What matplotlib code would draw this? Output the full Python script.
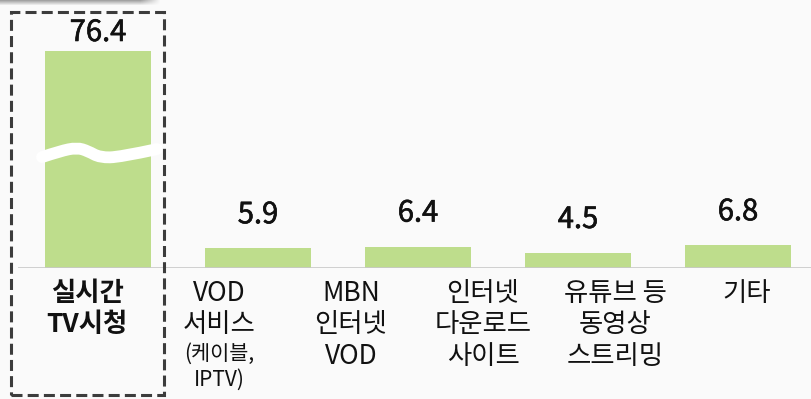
import numpy as np
import matplotlib
matplotlib.use('Agg')
import matplotlib.pyplot as plt
import matplotlib.patheffects as pe
from matplotlib.patches import Rectangle
from matplotlib.path import Path
from matplotlib.patches import PathPatch

plt.rcParams['font.family'] = ['Noto Sans CJK KR', 'DejaVu Sans']

# 이용 경로별 응답 비율 (%)
bar_values = [76.4, 5.9, 6.4, 4.5, 6.8]
bar_labels = ['76.4', '5.9', '6.4', '4.5', '6.8']
categories = ['실시간\nTV시청', 'VOD\n서비스', 'MBN\n인터넷\nVOD',
              '인터넷\n다운로드\n사이트', '유튜브 등\n동영상\n스트리밍', '기타']
sub_note = '(케이블,\nIPTV)'

W, H = 811, 399
BG = '#fafafa'
BAR = '#bedd8c'
INK = '#111111'

# 축 생략: BREAK 위쪽은 압축해서 그린다
BREAK = 34.0
K = 0.726


def fwd(v):
    v = np.asarray(v, dtype=float)
    return np.where(v <= BREAK, v, BREAK + (v - BREAK) * K)


def inv(v):
    v = np.asarray(v, dtype=float)
    return np.where(v <= BREAK, v, BREAK + (v - BREAK) / K)


def fx(px):
    return px / W


def fy(py):
    return 1 - py / H


fig = plt.figure(figsize=(W / 100, H / 100), dpi=100, facecolor=BG)
base_px = 268
ax = fig.add_axes([0, fy(base_px), 1, base_px / H])
ax.set_facecolor('none')
ax.set_yscale('function', functions=(fwd, inv))
ax.set_ylim(0, float(inv(base_px / 3.35)))
ax.set_xlim(-98 / 160, (W - 98) / 160)
ax.axis('off')

x = np.arange(len(bar_values))
bars = ax.bar(x, bar_values, width=106 / 160, color=BAR, zorder=2)
ax.hlines(0, -0.5, 5, color='#c8c8c8', lw=1.2, zorder=3)

# 숫자는 regular 글꼴에 얇은 외곽선을 더해 medium 굵기로
medium = [pe.withStroke(linewidth=0.45, foreground=INK)]
for i, (v, t) in enumerate(zip(bar_values, bar_labels)):
    off = 18 if i == 0 else 33
    ax.annotate(t, (x[i], v), xytext=(0, off * 0.72), textcoords='offset points',
                ha='center', va='center', fontsize=21, color=INK,
                path_effects=medium)

# 물결 모양 생략 표시
fig.canvas.draw()
cx, cy = ax.transData.transform((x[0], BREAK))
knots = [(-56, -3), (-38, 3), (-21, 6.5), (-10, 3), (2, -3.5), (22, -3), (59, 5)]
pts = [(cx + dx, cy + dy) for dx, dy in knots]
verts = [pts[0]]
codes = [Path.MOVETO]
for i in range(1, len(pts) - 1):
    nxt = pts[i + 1] if i == len(pts) - 2 else ((pts[i][0] + pts[i + 1][0]) / 2,
                                               (pts[i][1] + pts[i + 1][1]) / 2)
    verts += [pts[i], nxt]
    codes += [Path.CURVE3, Path.CURVE3]
wave = PathPatch(Path(verts, codes), transform=None, fill=False,
                 edgecolor='white', lw=8.5, capstyle='round', zorder=4)
fig.add_artist(wave)

# 항목 이름
label_x = [87 + 132 * i for i in range(len(categories))]
for i, (lx, lab) in enumerate(zip(label_x, categories)):
    fig.text(fx(lx), fy(280), lab, ha='center', va='top', fontsize=19,
             fontweight='bold' if i == 0 else 'normal', linespacing=1.21,
             color=INK)
fig.text(fx(label_x[1]), fy(343), sub_note, ha='center', va='top',
         fontsize=15, linespacing=1.25, color=INK)

# 강조 점선 박스
box = Rectangle((fx(11), fy(395)), fx(164 - 11), (395 - 12) / H,
                transform=fig.transFigure, fill=False, edgecolor='#3c3c3c',
                lw=2.2, ls=(0, (3.6, 1.7)), zorder=5)
fig.add_artist(box)

# 상단 그림자
sh = fig.add_axes([0, fy(6), fx(165), 6 / H])
sh.axis('off')
gy = np.linspace(0.35, 0, 6)[:, None]
gx = np.clip((160 - np.arange(165)) / 20, 0, 1)[None, :]
alpha = gy * gx
rgba = np.zeros((6, 165, 4))
rgba[..., 3] = alpha
sh.imshow(rgba, aspect='auto', interpolation='bilinear')

fig.savefig('out.png', dpi=100, facecolor=BG)
